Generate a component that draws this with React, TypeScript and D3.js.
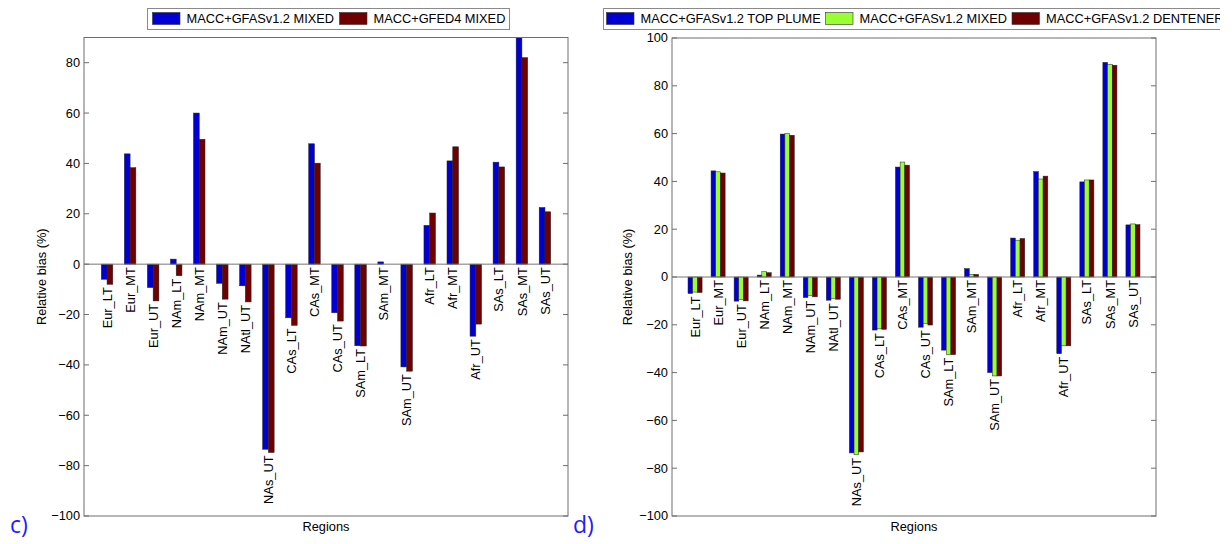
import React from "react";
import * as d3 from "d3";

// Region categories shared by both panels
const categories = [
  "Eur_LT", "Eur_MT", "Eur_UT", "NAm_LT", "NAm_MT", "NAm_UT", "NAtl_UT", "NAs_UT",
  "CAs_LT", "CAs_MT", "CAs_UT", "SAm_LT", "SAm_MT", "SAm_UT", "Afr_LT", "Afr_MT",
  "Afr_UT", "SAs_LT", "SAs_MT", "SAs_UT",
];

// Panel c) relative bias (%)
const gfasMixedC = [-6.0, 43.8, -9.3, 2.0, 60.0, -7.6, -8.6, -73.5, -21.3, 47.8, -19.3, -32.4, 0.9, -40.8, 15.4, 41.0, -28.6, 40.5, 90.0, 22.5];
const gfed4MixedC = [-8.0, 38.3, -14.6, -4.6, 49.6, -13.9, -15.0, -74.8, -24.3, 40.1, -22.6, -32.5, 0.0, -42.5, 20.3, 46.6, -23.8, 38.6, 82.0, 20.8];

// Panel d) relative bias (%)
const topPlumeD = [-6.9, 44.4, -10.1, 0.8, 59.8, -8.6, -9.7, -73.6, -22.2, 46.0, -21.0, -30.6, 3.5, -40.0, 16.3, 44.1, -32.1, 39.8, 89.8, 21.8];
const mixedD = [-6.3, 44.0, -9.4, 2.2, 60.0, -7.8, -8.9, -74.4, -21.7, 48.1, -19.4, -32.5, 1.1, -41.4, 15.4, 41.0, -28.8, 40.6, 89.0, 22.2];
const dentenerD = [-6.5, 43.5, -10.0, 1.8, 59.3, -8.3, -9.3, -73.2, -21.9, 46.8, -20.1, -32.5, 1.1, -41.4, 16.1, 42.2, -28.8, 40.6, 88.6, 21.9];

const seriesNamesC = ["MACC+GFASv1.2 MIXED", "MACC+GFED4 MIXED"];
const seriesNamesD = ["MACC+GFASv1.2 TOP PLUME", "MACC+GFASv1.2 MIXED", "MACC+GFASv1.2 DENTENER"];

const ticksC = [-100, -80, -60, -40, -20, 0, 20, 40, 60, 80];
const ticksD = [-100, -80, -60, -40, -20, 0, 20, 40, 60, 80, 100];

const BLUE = "#0000d2";
const GREEN = "#99ff33";
const MAROON = "#6e0000";

const FONT = "'Liberation Sans', Arial, Helvetica, sans-serif";
const FS = 12.8;
const AXIS_COLOR = "#6e6e6e";

type PanelProps = {
  series: number[][];
  colors: string[];
  yDomain: [number, number];
  ticks: number[];
  box: { x0: number; x1: number; y0: number; y1: number };
  groupWidth: number;
  yLabelX: number;
};

function Panel({ series, colors, yDomain, ticks, box, groupWidth, yLabelX }: PanelProps) {
  const x = d3.scaleLinear().domain([0, categories.length + 1]).range([box.x0, box.x1]);
  const y = d3.scaleLinear().domain(yDomain).range([box.y1, box.y0]);
  const unit = x(1) - x(0);
  const inner = d3
    .scaleBand<number>()
    .domain(d3.range(series.length))
    .range([-(groupWidth * unit) / 2, (groupWidth * unit) / 2])
    .padding(0);
  const fmt = (v: number) => (v < 0 ? "\u2212" + Math.abs(v) : String(v));
  const clipId = `clip-${box.x0}`;

  return (
    <g fontFamily={FONT} fontSize={FS} fill="#000">
      <defs>
        <clipPath id={clipId}>
          <rect x={box.x0} y={box.y0} width={box.x1 - box.x0} height={box.y1 - box.y0} />
        </clipPath>
      </defs>
      <g clipPath={`url(#${clipId})`}>
        {categories.map((c, i) =>
          series.map((s, k) => {
            const v = s[i];
            const cx = x(i + 1);
            const top = y(Math.max(0, v));
            const bot = y(Math.min(0, v));
            return (
              <rect
                key={`${c}-${k}`}
                x={cx + (inner(k) as number)}
                y={top}
                width={inner.bandwidth()}
                height={Math.max(0, bot - top)}
                fill={colors[k]}
                stroke="#222"
                strokeWidth={0.5}
              />
            );
          })
        )}
        {/* zero baseline */}
        <line x1={box.x0} x2={box.x1} y1={y(0)} y2={y(0)} stroke="#777" strokeWidth={1} />
      </g>

      {/* axes box */}
      <rect
        x={box.x0}
        y={box.y0}
        width={box.x1 - box.x0}
        height={box.y1 - box.y0}
        fill="none"
        stroke={AXIS_COLOR}
        strokeWidth={1}
      />
      {ticks.map((t) => (
        <g key={t}>
          <line x1={box.x0} x2={box.x0 + 5} y1={y(t)} y2={y(t)} stroke={AXIS_COLOR} />
          <line x1={box.x1} x2={box.x1 - 5} y1={y(t)} y2={y(t)} stroke={AXIS_COLOR} />
          <text x={box.x0 - 4} y={y(t)} dy="0.35em" textAnchor="end">
            {fmt(t)}
          </text>
        </g>
      ))}

      {/* category labels below each group */}
      {categories.map((c, i) => {
        const lo = Math.min(0, ...series.map((s) => s[i]));
        const ty = y(lo) + 3;
        const tx = x(i + 1) + 4.6;
        return (
          <text key={c} transform={`translate(${tx},${ty}) rotate(-90)`} textAnchor="end">
            {c}
          </text>
        );
      })}

      <text
        transform={`translate(${yLabelX},${(box.y0 + box.y1) / 2}) rotate(-90)`}
        textAnchor="middle"
      >
        Relative bias (%)
      </text>
      <text x={(box.x0 + box.x1) / 2} y={531} textAnchor="middle">
        Regions
      </text>
    </g>
  );
}

type LegendProps = {
  names: string[];
  colors: string[];
  x: number;
  width: number;
  itemX: number[];
  clipRight: number;
};

function Legend({ names, colors, x, width, itemX, clipRight }: LegendProps) {
  const id = `legclip-${x}`;
  return (
    <g fontFamily={FONT} fontSize={FS}>
      <defs>
        <clipPath id={id}>
          <rect x={0} y={0} width={clipRight} height={40} />
        </clipPath>
      </defs>
      <g clipPath={`url(#${id})`}>
        <rect x={x} y={8.5} width={width} height={21} fill="#fff" stroke="#8a8a8a" strokeWidth={1} />
        {names.map((n, k) => (
          <g key={n}>
            <rect
              x={itemX[k]}
              y={12.5}
              width={27.5}
              height={12}
              fill={colors[k]}
              stroke="#333"
              strokeWidth={0.6}
            />
            <text x={itemX[k] + 34} y={23.3} fill="#000">
              {n}
            </text>
          </g>
        ))}
      </g>
    </g>
  );
}

export default function App() {
  return (
    <svg
      width={1232}
      height={544}
      style={{ position: "absolute", left: 0, top: 0, background: "#fff" }}
    >
      <rect x={0} y={0} width={1232} height={544} fill="#fff" />

      <Legend
        names={seriesNamesC}
        colors={[BLUE, MAROON]}
        x={147.5}
        width={362}
        itemX={[152.5, 339.5]}
        clipRight={1232}
      />
      <Panel
        series={[gfasMixedC, gfed4MixedC]}
        colors={[BLUE, MAROON]}
        yDomain={[-100, 90]}
        ticks={ticksC}
        box={{ x0: 84, x1: 568, y0: 37.5, y1: 516 }}
        groupWidth={0.5}
        yLabelX={46}
      />

      <Legend
        names={seriesNamesD}
        colors={[BLUE, GREEN, MAROON]}
        x={603.5}
        width={700}
        itemX={[606.5, 825.5, 1012]}
        clipRight={1220}
      />
      <Panel
        series={[topPlumeD, mixedD, dentenerD]}
        colors={[BLUE, GREEN, MAROON]}
        yDomain={[-100, 100]}
        ticks={ticksD}
        box={{ x0: 672, x1: 1156, y0: 38, y1: 516 }}
        groupWidth={0.61}
        yLabelX={632}
      />

      <text x={10} y={533} fontFamily="'Open Sans', 'DejaVu Sans', sans-serif" fontSize={23} fill="#1c1cff">
        c)
      </text>
      <text x={573} y={533} fontFamily="'Open Sans', 'DejaVu Sans', sans-serif" fontSize={23} fill="#1c1cff">
        d)
      </text>
    </svg>
  );
}
